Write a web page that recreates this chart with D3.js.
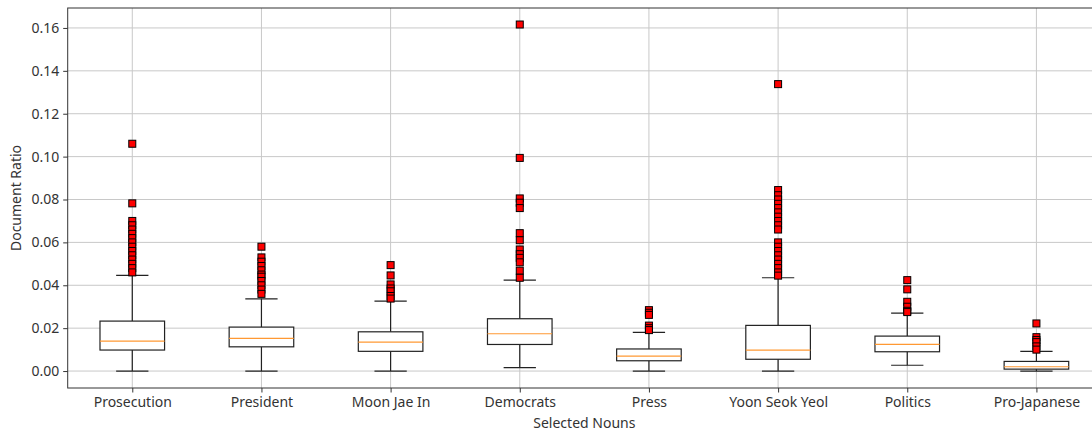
<!DOCTYPE html>
<html>
<head>
<meta charset="utf-8">
<script src="https://d3js.org/d3.v7.min.js"></script>
<style>
body{margin:0;background:#fff;}
svg{display:block;font-family:"Noto Sans","Open Sans",sans-serif;}
</style>
</head>
<body>
<script>
// values
const categories = ['Prosecution','President','Moon Jae In','Democrats','Press','Yoon Seok Yeol','Politics','Pro-Japanese'];
const whiskerLow  = [0.0000, 0.0000, 0.0000, 0.0016, 0.0000, 0.0000, 0.0027, 0.0000];
const q1          = [0.0098, 0.0113, 0.0092, 0.0124, 0.0048, 0.0055, 0.0090, 0.0009];
const median      = [0.0140, 0.0152, 0.0135, 0.0174, 0.0070, 0.0098, 0.0124, 0.0020];
const q3          = [0.0233, 0.0205, 0.0183, 0.0244, 0.0103, 0.0213, 0.0163, 0.0045];
const whiskerHigh = [0.0446, 0.0337, 0.0326, 0.0424, 0.0180, 0.0435, 0.0270, 0.0092];
const outliers = [
  [0.106, 0.0782, 0.070, 0.068, 0.066, 0.064, 0.062, 0.060, 0.058, 0.056, 0.054, 0.052, 0.050, 0.048, 0.046],
  [0.058, 0.053, 0.051, 0.049, 0.047, 0.045, 0.044, 0.042, 0.040, 0.038, 0.036],
  [0.0494, 0.0446, 0.0404, 0.0385, 0.0372, 0.035, 0.0338],
  [0.1616, 0.0994, 0.0805, 0.0785, 0.076, 0.0643, 0.061, 0.0567, 0.0545, 0.0528, 0.0507, 0.0468, 0.0435],
  [0.0284, 0.0272, 0.0262, 0.0212, 0.0200, 0.0191],
  [0.1338, 0.0844, 0.082, 0.080, 0.078, 0.076, 0.074, 0.072, 0.070, 0.068, 0.066,
   0.060, 0.058, 0.056, 0.054, 0.052, 0.050, 0.048, 0.046, 0.0445],
  [0.0424, 0.0381, 0.0323, 0.030, 0.0281, 0.0275],
  [0.0222, 0.0158, 0.0145, 0.0135, 0.0115, 0.0100]
];
const yTicks = [0, 0.02, 0.04, 0.06, 0.08, 0.10, 0.12, 0.14, 0.16];

const W = 1092, H = 432;
const mLeft = 67.7, mRight = 1101, mTop = 8, mBottom = 388;

const svg = d3.select('body').append('svg').attr('width', W).attr('height', H);

const x = d3.scalePoint().domain(categories).range([mLeft, mRight]).padding(0.5);
const step = x.step();
const y = d3.scaleLinear().domain([-0.0079, 0.1693]).range([mBottom, mTop]);

const rows = categories.map((c, i) => ({
  c, lo: whiskerLow[i], q1: q1[i], med: median[i], q3: q3[i], hi: whiskerHigh[i], out: outliers[i]
}));

// grid
const grid = svg.append('g').attr('stroke', '#c8c8c8').attr('stroke-width', 1);
grid.selectAll('.gy').data(yTicks).enter().append('line')
    .attr('x1', mLeft).attr('x2', mRight)
    .attr('y1', d => y(d)).attr('y2', d => y(d));
grid.selectAll('.gx').data(categories).enter().append('line')
    .attr('x1', d => x(d)).attr('x2', d => x(d))
    .attr('y1', mTop).attr('y2', mBottom);

// boxes
const boxW = step * 0.5, capW = step * 0.25;
const g = svg.selectAll('.box').data(rows).enter().append('g')
    .attr('stroke', '#222').attr('stroke-width', 1.2).attr('fill', 'none');

g.append('line').attr('x1', d => x(d.c)).attr('x2', d => x(d.c))
    .attr('y1', d => y(d.q1)).attr('y2', d => y(d.lo));
g.append('line').attr('x1', d => x(d.c)).attr('x2', d => x(d.c))
    .attr('y1', d => y(d.q3)).attr('y2', d => y(d.hi));
g.append('line').attr('x1', d => x(d.c) - capW / 2).attr('x2', d => x(d.c) + capW / 2)
    .attr('y1', d => y(d.lo)).attr('y2', d => y(d.lo));
g.append('line').attr('x1', d => x(d.c) - capW / 2).attr('x2', d => x(d.c) + capW / 2)
    .attr('y1', d => y(d.hi)).attr('y2', d => y(d.hi));
g.append('rect')
    .attr('x', d => x(d.c) - boxW / 2).attr('width', boxW)
    .attr('y', d => y(d.q3)).attr('height', d => y(d.q1) - y(d.q3))
    .attr('fill', '#fff');
g.append('line').attr('x1', d => x(d.c) - boxW / 2).attr('x2', d => x(d.c) + boxW / 2)
    .attr('y1', d => y(d.med)).attr('y2', d => y(d.med))
    .attr('stroke', '#ff9933').attr('stroke-width', 1.2);

// outliers
const ms = 7;
g.selectAll('.o').data(d => d.out.map(v => ({c: d.c, v}))).enter().append('rect')
    .attr('x', d => x(d.c) - ms / 2).attr('y', d => y(d.v) - ms / 2)
    .attr('width', ms).attr('height', ms)
    .attr('fill', '#ff0000').attr('stroke', '#000').attr('stroke-width', 1);

// frame
svg.append('rect').attr('x', mLeft).attr('y', mTop)
    .attr('width', mRight - mLeft).attr('height', mBottom - mTop)
    .attr('fill', 'none').attr('stroke', '#333').attr('stroke-width', 1);

// axes
const yAxis = svg.append('g').attr('transform', `translate(${mLeft},0)`)
    .call(d3.axisLeft(y).tickValues(yTicks).tickFormat(d3.format('.2f')).tickSize(4.5).tickPadding(4).tickSizeOuter(0));
const xAxis = svg.append('g').attr('transform', `translate(0,${mBottom})`)
    .call(d3.axisBottom(x).tickSize(4.5).tickPadding(5).tickSizeOuter(0));
[yAxis, xAxis].forEach(a => {
  a.select('.domain').remove();
  a.selectAll('line').attr('stroke', '#333');
  a.selectAll('text').attr('fill', '#333').style('font-size', '14px')
      .style('font-family', '"Noto Sans","Open Sans",sans-serif');
});

svg.append('text').attr('x', (mLeft + mRight) / 2).attr('y', 428)
    .attr('text-anchor', 'middle').attr('fill', '#333').style('font-size', '14px')
    .text('Selected Nouns');
svg.append('text').attr('transform', `translate(21,${(mTop + mBottom) / 2}) rotate(-90)`)
    .attr('text-anchor', 'middle').attr('fill', '#333').style('font-size', '14px')
    .text('Document Ratio');
</script>
</body>
</html>
